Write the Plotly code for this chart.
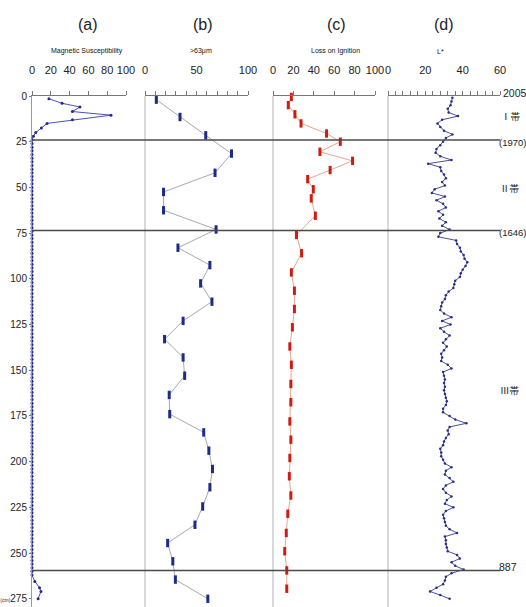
import plotly.graph_objects as go

W, H = 526, 607
TOP = 96         # y of depth 0 (top axis line)

# ---------------- data ----------------
panel_titles = ["(a)", "(b)", "(c)", "(d)"]
panel_subtitles = ["Magnetic Susceptibility", ">63μm", "Loss on Ignition", "L*"]

depth_ticks = [0, 25, 50, 75, 100, 125, 150, 175, 200, 225, 250, 275]
depth_ticktext = ["0", "25", "50", "75", "100", "125", "150", "175", "200", "225", "250",
                  "<span style='font-size:5px'>(cm)</span>275"]

# (a) Magnetic susceptibility
ms_depth = [1.5, 4, 6, 8.5, 10.5, 13, 15, 17.5, 20, 22, 24,
            26, 28, 30, 32, 34, 36, 38, 40, 42, 44, 46, 48, 50, 52, 54, 56, 58, 60,
            62, 64, 66, 68, 70, 72, 74, 76, 78, 80, 82, 84, 86, 88, 90, 92, 94, 96,
            98, 100, 102, 104, 106, 108, 110, 112, 114, 116, 118, 120, 122, 124, 126,
            128, 130, 132, 134, 136, 138, 140, 142, 144, 146, 148, 150, 152, 154, 156,
            158, 160, 162, 164, 166, 168, 170, 172, 174, 176, 178, 180, 182, 184, 186,
            188, 190, 192, 194, 196, 198, 200, 202, 204, 206, 208, 210, 212, 214, 216,
            218, 220, 222, 224, 226, 228, 230, 232, 234, 236, 238, 240, 242, 244, 246,
            248, 250, 252, 254, 256, 258, 260, 262, 265.5, 269, 271, 275]
ms_val = [18, 32, 51, 43, 84, 43, 16, 10, 4, 1.5, 0,
          0, 0, 0, 0, 0, 0, 0, 0, 0, 0, 0, 0, 0, 0, 0, 0, 0, 0,
          0, 0, 0, 0, 0, 0, 0, 0, 0, 0, 0, 0, 0, 0, 0, 0, 0, 0,
          0, 0, 0, 0, 0, 0, 0, 0, 0, 0, 0, 0, 0, 0, 0,
          0, 0, 0, 0, 0, 0, 0, 0, 0, 0, 0, 0, 0, 0, 0,
          0, 0, 0, 0, 0, 0, 0, 0, 0, 0, 0, 0, 0, 0, 0,
          0, 0, 0, 0, 0, 0, 0, 0, 0, 0, 0, 0, 0, 0, 0,
          0, 0, 0, 0, 0, 0, 0, 0, 0, 0, 0, 0, 0, 0, 0,
          0, 0, 0, 0, 0, 0, 0, 0, 3, 8, 9.5, 6.5]

# (b) >63 um fraction
sand_depth = [2, 11.5, 21.5, 31.5, 42, 52.5, 62.5, 73, 83, 92.5, 102.5, 112.5, 123, 133,
              143, 153, 163.5, 174, 184, 194, 204, 214, 224.5, 234.5, 244.5, 254.5, 264.5, 275]
sand_val = [11, 34, 59, 84, 68, 18, 18, 69, 32, 63, 54, 65, 37, 19,
            37, 38.5, 23.5, 24, 57, 62, 65.5, 63, 56, 48.5, 22, 27, 29.5, 61]

# (c) Loss on ignition
loi_depth = [0.5, 5, 10, 15, 20.5, 25, 30.5, 35.5, 40.5, 45.5, 51, 56, 65.5, 76, 86,
             96.5, 106.5, 116.5, 126.5, 137, 147, 157.5, 167.5, 178, 188, 198, 208,
             218.5, 228.5, 239, 249, 259.5, 269.5]
loi_val = [18, 15, 21.5, 27.5, 52.5, 66, 46, 78, 56, 34, 39.5, 37.5, 41.5, 23, 28,
           18, 21, 21, 19, 16.5, 18, 17.5, 17.5, 16.5, 17.5, 16.5, 16, 17.5,
           14.5, 13, 11.5, 13.5, 13.5]

# (d) L*
lstar_depth = [1, 3, 5, 7, 9, 11, 13, 15, 17, 19, 21, 23, 25, 27, 29, 31, 33, 35, 37, 39,
               41, 43, 45, 47, 49, 51, 53, 55, 57, 59, 61, 63, 65, 67, 69, 71, 73, 75, 77, 79,
               81, 83, 85, 87, 89, 91, 93, 95, 97, 99, 101, 103, 105, 107, 109, 111, 113, 115,
               117, 119, 121, 123, 125, 127, 129, 131, 133, 135, 137, 139, 141, 143, 145, 147,
               149, 151, 153, 155, 157, 159, 161, 163, 165, 167, 169, 171, 173, 175, 177, 179,
               181, 183, 185, 187, 189, 191, 193, 195, 197, 199, 201, 203, 205, 207, 209, 211,
               213, 215, 217, 219, 221, 223, 225, 227, 229, 231, 233, 235, 237, 239, 241, 243,
               245, 247, 249, 251, 253, 255, 257, 259, 261, 263, 265, 267, 269, 271, 273, 275]
lstar_val = [34.5, 34, 33.5, 32, 32.5, 37.5, 29, 26.5, 28, 30, 34.5, 31, 29.5, 28, 26, 25.5,
             28, 34, 21.5, 28, 28.5, 30, 31, 29, 30.5, 25, 23.5, 30.5, 26, 29.5, 31, 27,
             29.5, 27.5, 31, 29, 33, 28, 27, 36.5, 37, 38.5, 39, 40.5, 41, 42.5, 41.5, 40,
             39, 38.5, 36, 35.5, 35, 32.5, 31, 30.5, 29, 28.5, 28, 30, 34, 29, 33.5, 28,
             30, 33, 31, 29.5, 31.5, 30, 28.5, 29, 28.5, 32, 34, 29.5, 30, 30.5, 30, 30.5,
             30, 30.5, 31, 31.5, 31, 29.5, 29.5, 33, 36, 42, 33, 32, 32.5, 31, 30, 29.5,
             28, 28.5, 28.5, 29.5, 30.5, 34, 31, 30.5, 33, 35, 31, 29.5, 31, 34, 31.5, 30.5,
             35, 31, 29.5, 30, 30.5, 31, 33, 37, 30.5, 31, 31, 31.5, 32, 37, 38.5, 34,
             36, 40.5, 34, 31, 30.5, 29.5, 26, 22.5, 28, 33]

boundary_depths = [24, 73.5, 259.5]
right_labels = ["2005", "Ⅰ帯", "(1970)", "Ⅱ帯", "(1646)", "Ⅲ帯", "887"]

# ---------------- layout helpers (pixels -> paper) ----------------
PLOT_H = H - TOP

def px(x):
    return x / W

def py(y):
    return (H - y) / PLOT_H

FONT = "Liberation Sans, Arial, sans-serif"
CJK = "Noto Sans CJK JP, sans-serif"

fig = go.Figure()

fig.add_trace(go.Scatter(x=ms_val, y=ms_depth, xaxis="x", yaxis="y", mode="lines+markers",
                         line=dict(color="#4a52b0", width=1),
                         marker=dict(size=3, color="#232a8a"), cliponaxis=False))
fig.add_trace(go.Scatter(x=sand_val, y=sand_depth, xaxis="x2", yaxis="y", mode="lines+markers",
                         line=dict(color="#a8a8b4", width=1),
                         marker=dict(symbol="line-ns", size=6, color="#1c2a8c",
                                     line=dict(color="#1c2a8c", width=3)),
                         cliponaxis=False))
fig.add_trace(go.Scatter(x=loi_val, y=loi_depth, xaxis="x3", yaxis="y", mode="lines+markers",
                         line=dict(color="#e0a890", width=1),
                         marker=dict(symbol="line-ns", size=6, color="#d01c10",
                                     line=dict(color="#d01c10", width=3)),
                         cliponaxis=False))
fig.add_trace(go.Scatter(x=lstar_val, y=lstar_depth, xaxis="x4", yaxis="y", mode="lines+markers",
                         line=dict(color="#4a4e9e", width=1),
                         marker=dict(size=2.5, color="#2a2f80"), cliponaxis=False))

axis_common = dict(side="top", anchor="y", showgrid=False, zeroline=False, showline=True,
                   linecolor="#777", linewidth=1, ticks="outside", ticklen=4,
                   tickcolor="#777", tickangle=0, automargin=False,
                   tickfont=dict(family=FONT, size=11, color="#222"),
                   ticklabelstandoff=13)

fig.update_layout(
    width=W, height=H,
    margin=dict(l=0, r=0, t=TOP, b=0, autoexpand=False),
    paper_bgcolor="white", plot_bgcolor="white",
    showlegend=False,
    xaxis=dict(domain=[px(32), px(126)], range=[0, 100], dtick=20, **axis_common),
    xaxis2=dict(domain=[px(145), px(248)], range=[0, 100], dtick=50,
                minor=dict(dtick=10, ticks="outside", ticklen=4, tickcolor="#777"), **axis_common),
    xaxis3=dict(domain=[px(273), px(375)], range=[0, 100], dtick=20, **axis_common),
    xaxis4=dict(domain=[px(388), px(500)], range=[0, 60], dtick=20,
                minor=dict(dtick=4, ticks="outside", ticklen=4, tickcolor="#777"), **axis_common),
    yaxis=dict(domain=[0, 1], range=[279.5, 0], anchor="x", showgrid=False, zeroline=False,
               showline=True, linecolor="#999", linewidth=1, automargin=False,
               tickvals=depth_ticks, ticktext=depth_ticktext,
               ticks="outside", ticklen=2, tickcolor="#777",
               tickfont=dict(family=FONT, size=10, color="#222")),
)

shapes = []
for xv in [145, 273, 388]:
    shapes.append(dict(type="line", xref="paper", yref="paper", x0=px(xv), x1=px(xv),
                       y0=0, y1=1, line=dict(color="#b4b4b4", width=1)))
for d in boundary_depths:
    shapes.append(dict(type="line", xref="paper", yref="y", x0=px(32), x1=px(500),
                       y0=d, y1=d, line=dict(color="#4a4a4a", width=1.5)))
fig.update_layout(shapes=shapes)

ann = []
title_x = [88, 203, 336, 444]
sub_x = [87, 201, 335, 440]
for t, s, tx, sx in zip(panel_titles, panel_subtitles, title_x, sub_x):
    ann.append(dict(text=t, x=px(tx), y=py(25), xref="paper", yref="paper",
                    showarrow=False, xanchor="center", yanchor="middle",
                    font=dict(family=FONT, size=16, color="#222")))
    ann.append(dict(text=s, x=px(sx), y=py(51), xref="paper", yref="paper",
                    showarrow=False, xanchor="center", yanchor="middle",
                    font=dict(family=FONT, size=7, color="#111")))

label_x = [514.5, 511, 512, 510, 512, 510, 508]
label_y = [93, 116, 142, 188, 232, 390, 567]
label_size = [10.5, 9.5, 9.5, 9.5, 9.5, 9.5, 10.5]
for lab, lx, ly, ls in zip(right_labels, label_x, label_y, label_size):
    cjk = "帯" in lab
    ann.append(dict(text=lab, x=px(lx), y=py(ly), xref="paper", yref="paper",
                    showarrow=False, xanchor="center", yanchor="middle",
                    font=dict(family=CJK if cjk else FONT, size=ls, color="#222")))
fig.update_layout(annotations=ann)

# remove the default page margin so the figure fills the 526x607 window exactly
fig.write_html("out.html",
               config={"displayModeBar": False, "staticPlot": True},
               post_script="document.body.style.margin='0';"
                           "document.documentElement.style.overflow='hidden';")
